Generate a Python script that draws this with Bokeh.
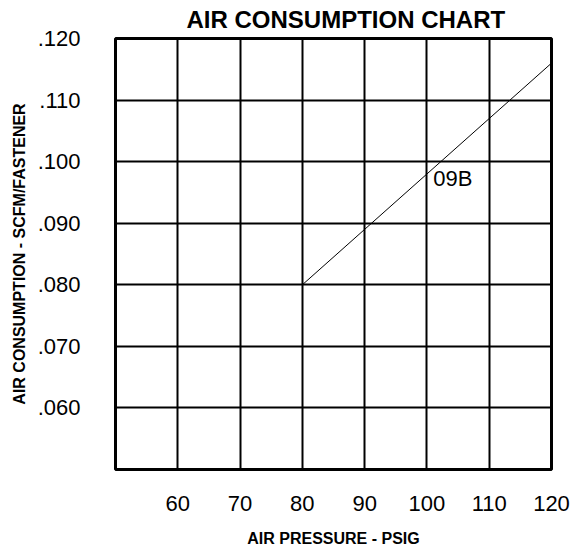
from bokeh.plotting import figure
from bokeh.models import FixedTicker, Range1d
from bokeh.embed import file_html
from bokeh.resources import INLINE
from bokeh.core.properties import value

# ---- data ----
title_text = "AIR CONSUMPTION CHART"
x_label = "AIR PRESSURE - PSIG"
y_label = "AIR CONSUMPTION - SCFM/FASTENER"
x_ticks = [60, 70, 80, 90, 100, 110, 120]
x_tick_labels = ["60", "70", "80", "90", "100", "110", "120"]
y_ticks = [0.06, 0.07, 0.08, 0.09, 0.10, 0.11, 0.12]
y_tick_labels = [".060", ".070", ".080", ".090", ".100", ".110", ".120"]
pressure = [80, 90, 100, 110, 120]
consumption = [0.080, 0.089, 0.098, 0.107, 0.116]
series_label = "09B"
series_label_x = 101.0
series_label_y = 0.0993

FONT = "Liberation Sans"

p = figure(width=576, height=550, x_range=Range1d(50, 120), y_range=Range1d(0.05, 0.12),
           output_backend="svg", toolbar_location=None,
           min_border_left=115, min_border_right=25, min_border_top=38, min_border_bottom=81)

p.title.text = title_text
p.title.text_font = FONT
p.title.text_font_style = "bold"
p.title.text_font_size = "24px"
p.title.text_color = "black"
p.title.align = "left"
p.title.vertical_align = "top"
p.title.standoff = 7
p.title.offset = 71

p.xaxis.ticker = FixedTicker(ticks=x_ticks)
p.xaxis.major_label_overrides = {t: l for t, l in zip(x_ticks, x_tick_labels)}
p.yaxis.ticker = FixedTicker(ticks=y_ticks)
p.yaxis.major_label_overrides = {t: l for t, l in zip(y_ticks, y_tick_labels)}

for ax in (p.xaxis, p.yaxis):
    ax.axis_line_color = None
    ax.major_tick_line_color = None
    ax.minor_tick_line_color = None
    ax.major_tick_out = 0
    ax.major_tick_in = 0
    ax.major_label_text_font = FONT
    ax.major_label_text_font_size = "22px"
    ax.major_label_text_color = "black"
    ax.major_label_text_line_height = 1.0
    ax.axis_label_text_font = FONT
    ax.axis_label_text_font_style = "bold"
    ax.axis_label_text_font_size = "16px"
    ax.axis_label_text_color = "black"
    ax.axis_label_text_line_height = 1.0

p.xaxis.axis_label = x_label
p.yaxis.axis_label = y_label
p.xaxis.major_label_standoff = 26
p.xaxis.axis_label_standoff = 16
p.yaxis.major_label_standoff = 35
p.yaxis.axis_label_standoff = 7

p.grid.grid_line_color = "black"
p.grid.grid_line_width = 2
p.grid.grid_line_alpha = 1

p.outline_line_color = "black"
p.outline_line_width = 3
p.outline_line_alpha = 1

p.line(pressure, consumption, line_color="black", line_width=1)
p.text(x=[series_label_x], y=[series_label_y], text=[series_label],
       text_font=value(FONT), text_font_size="22px", text_align="left",
       text_baseline="top", text_color="black")

open("out.html", "w").write(file_html(p, INLINE))
